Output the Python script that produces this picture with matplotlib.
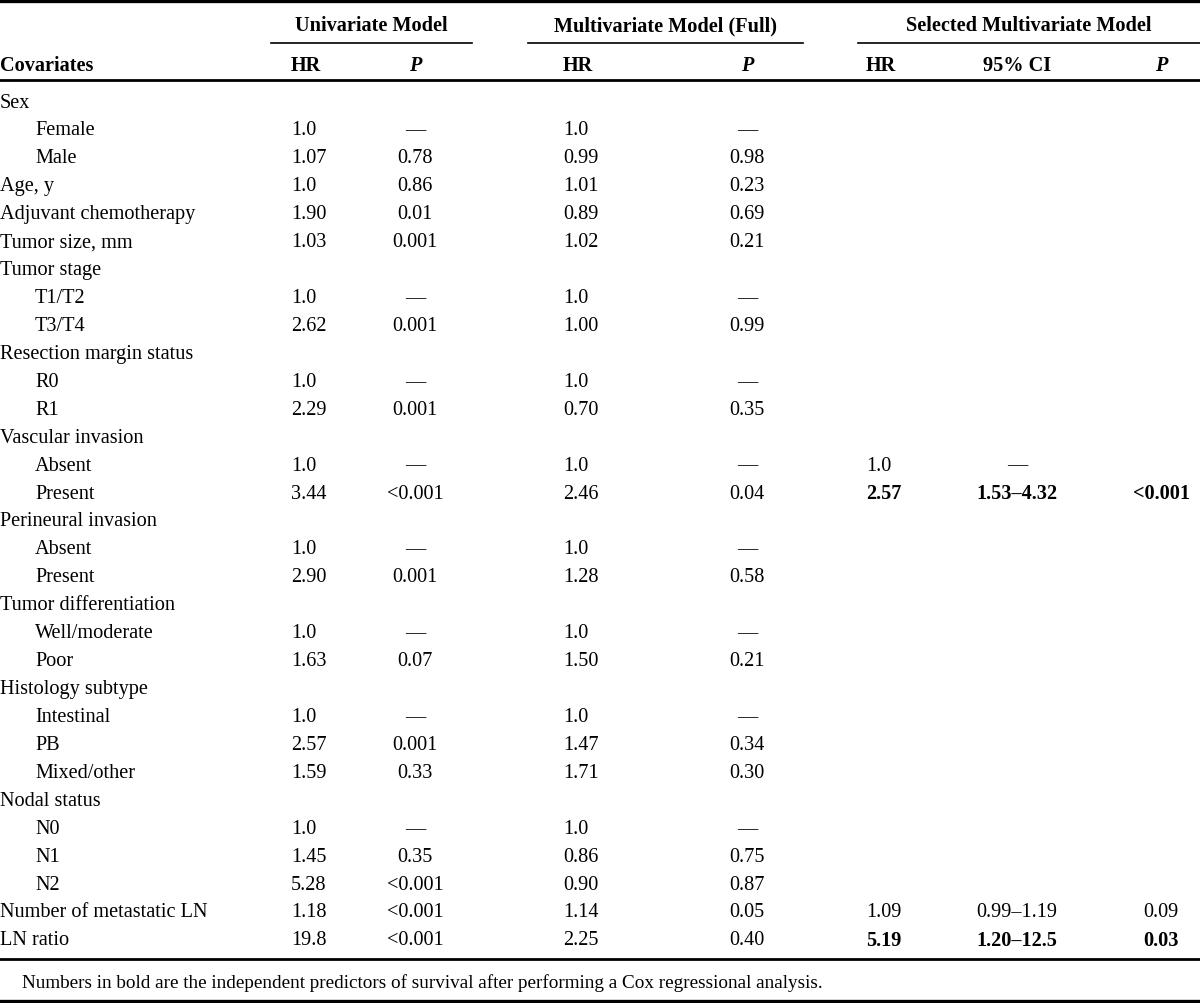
import matplotlib.pyplot as plt

plt.rcParams['font.family'] = ['Liberation Serif', 'DejaVu Serif']

# row labels (indent flag: 1 = subcategory)
labels = ['Sex', 'Female', 'Male', 'Age, y', 'Adjuvant chemotherapy', 'Tumor size, mm',
          'Tumor stage', 'T1/T2', 'T3/T4', 'Resection margin status', 'R0', 'R1',
          'Vascular invasion', 'Absent', 'Present', 'Perineural invasion', 'Absent', 'Present',
          'Tumor differentiation', 'Well/moderate', 'Poor', 'Histology subtype', 'Intestinal',
          'PB', 'Mixed/other', 'Nodal status', 'N0', 'N1', 'N2', 'Number of metastatic LN',
          'LN ratio']
indent = [0, 1, 1, 0, 0, 0, 0, 1, 1, 0, 1, 1, 0, 1, 1, 0, 1, 1, 0, 1, 1, 0, 1, 1, 1, 0, 1, 1, 1, 0, 0]

uni_hr = ['', '1.0', '1.07', '1.0', '1.90', '1.03', '', '1.0', '2.62', '', '1.0', '2.29',
          '', '1.0', '3.44', '', '1.0', '2.90', '', '1.0', '1.63', '', '1.0', '2.57', '1.59',
          '', '1.0', '1.45', '5.28', '1.18', '19.8']
uni_p = ['', '—', '0.78', '0.86', '0.01', '0.001', '', '—', '0.001', '', '—', '0.001',
         '', '—', '<0.001', '', '—', '0.001', '', '—', '0.07', '', '—', '0.001', '0.33',
         '', '—', '0.35', '<0.001', '<0.001', '<0.001']
full_hr = ['', '1.0', '0.99', '1.01', '0.89', '1.02', '', '1.0', '1.00', '', '1.0', '0.70',
           '', '1.0', '2.46', '', '1.0', '1.28', '', '1.0', '1.50', '', '1.0', '1.47', '1.71',
           '', '1.0', '0.86', '0.90', '1.14', '2.25']
full_p = ['', '—', '0.98', '0.23', '0.69', '0.21', '', '—', '0.99', '', '—', '0.35',
          '', '—', '0.04', '', '—', '0.58', '', '—', '0.21', '', '—', '0.34', '0.30',
          '', '—', '0.75', '0.87', '0.05', '0.40']
sel_hr = [''] * 13 + ['1.0', '2.57'] + [''] * 14 + ['1.09', '5.19']
sel_ci = [''] * 13 + ['—', '1.53–4.32'] + [''] * 14 + ['0.99–1.19', '1.20–12.5']
sel_p = [''] * 13 + ['', '<0.001'] + [''] * 14 + ['0.09', '0.03']
bold_sel = [False] * 14 + [True] + [False] * 15 + [True]

groups = ['Univariate Model', 'Multivariate Model (Full)', 'Selected Multivariate Model']
subheads = ['HR', 'P', 'HR', 'P', 'HR', '95% CI', 'P']
footnote = 'Numbers in bold are the independent predictors of survival after performing a Cox regressional analysis.'

fig = plt.figure(figsize=(12, 10.04), dpi=100)
ax = fig.add_axes([0, 0, 1, 1])
ax.set_xlim(0, 1200)
ax.set_ylim(1004, 0)
ax.axis('off')

fs = 14.6
col_x = [291, 415, 563, 747, 866, 1017, 1161]
col_ha = ['left', 'center', 'left', 'center', 'left', 'center', 'center']
group_x = [371, 665, 1029]
group_span = [(271, 472), (528, 803), (858, 1200)]

# rules
ax.plot([0, 1200], [2, 2], color='black', lw=2.4)
ax.plot([0, 1200], [81, 81], color='black', lw=2)
ax.plot([0, 1200], [960, 960], color='black', lw=2)
ax.plot([0, 1200], [1002, 1002], color='black', lw=2.4)
for (a, b), gx, g in zip(group_span, group_x, groups):
    ax.plot([a, b], [44, 44], color='black', lw=1.2)
    ax.text(gx, 26, g, ha='center', va='center', fontsize=fs, fontweight='bold')

ax.text(0, 66, 'Covariates', ha='left', va='center', fontsize=fs, fontweight='bold')
for x, ha, s in zip(col_x, col_ha, subheads):
    ax.text(x, 66, s, ha=ha, va='center', fontsize=fs, fontweight='bold',
            style='italic' if s == 'P' else 'normal')

y0, dy = 103, 27.93
cols = [uni_hr, uni_p, full_hr, full_p, sel_hr, sel_ci, sel_p]
for i, lab in enumerate(labels):
    y = y0 + i * dy
    ax.text(35 if indent[i] else 0, y, lab, ha='left', va='center', fontsize=fs)
    for j, (x, ha, col) in enumerate(zip(col_x, col_ha, cols)):
        w = 'bold' if (j >= 4 and bold_sel[i]) else 'normal'
        ax.text(x, y, col[i], ha=ha, va='center', fontsize=fs, fontweight=w)

ax.text(22, 983, footnote, ha='left', va='center', fontsize=13.8)

fig.savefig('out.png', dpi=100)
